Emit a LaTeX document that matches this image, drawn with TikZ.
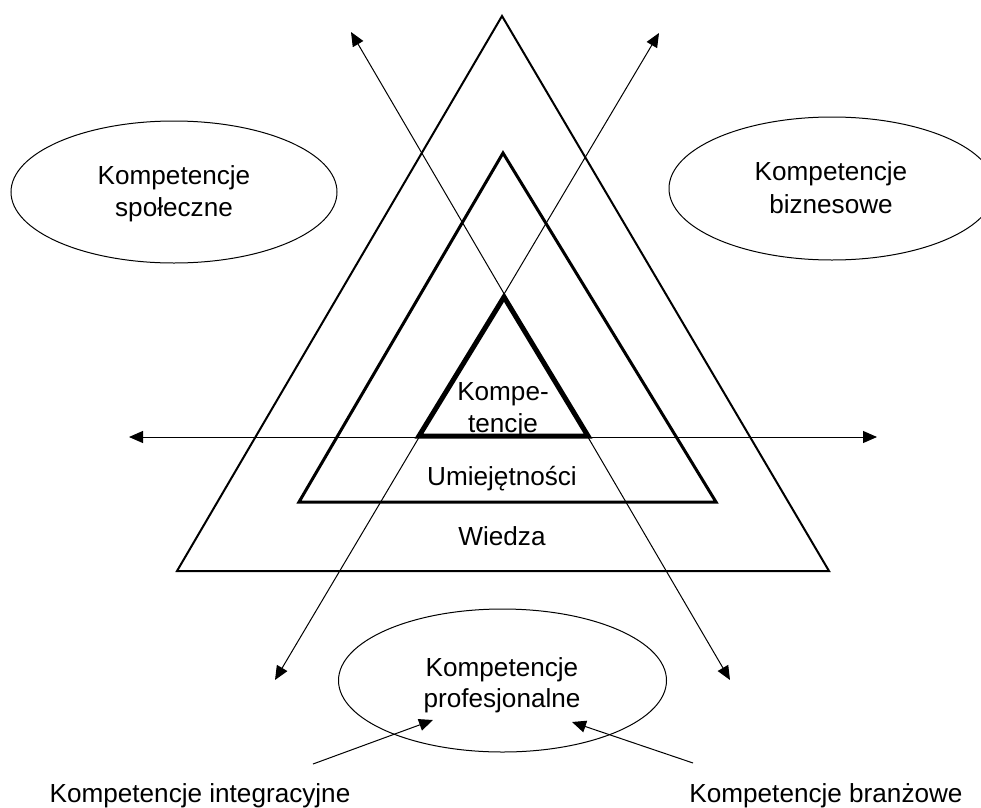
\documentclass[tikz,border=0pt]{standalone}
\usepackage{fontspec}
\setmainfont{Liberation Sans}
\usetikzlibrary{arrows.meta,shapes.geometric}
\begin{document}
\begin{tikzpicture}[x=0.75pt,y=-0.75pt,
  lbl/.style={anchor=base,inner sep=0pt,font=\fontsize{19.6}{23}\selectfont},
  oval/.style={draw,ellipse,line width=0.75pt,inner sep=0pt},
  tip/.tip={Triangle[length=10.5pt,width=9pt]},
  arr/.style={line width=0.75pt,-tip},
  darr/.style={line width=0.75pt,tip-tip},
  tri/.style={line join=miter,draw}
]
\useasboundingbox (0,0) rectangle (981,807);
\clip (0,0) rectangle (981,807);

% triangles
\coordinate (oA) at (502,16);
\coordinate (oL) at (177,571);
\coordinate (oR) at (829,571);
\coordinate (mA) at (503,153);
\coordinate (mL) at (299,502);
\coordinate (mR) at (716,502);
\coordinate (iA) at (504,297);
\coordinate (iL) at (419,436);
\coordinate (iR) at (588,436);
\draw[tri,line width=1.5pt] (oA) -- (oL) -- (oR) -- cycle;
\draw[tri,line width=2.25pt] (mA) -- (mL) -- (mR) -- cycle;
\draw[tri,line width=3.75pt] (iA) -- (iL) -- (iR) -- cycle;

% ellipses
\node[oval,minimum width=244.5pt,minimum height=106.5pt] (es) at (174,192) {};
\node[oval,minimum width=244.5pt,minimum height=107.25pt] (eb) at (832,188.5) {};
\node[oval,minimum width=246pt,minimum height=107.25pt] (ep) at (502.5,680.5) {};

% arrows
\coordinate (hL) at (129,437);
\coordinate (hR) at (877,437);
\coordinate (d1a) at (351,32);
\coordinate (d1b) at (730,680);
\coordinate (d2a) at (659,33);
\coordinate (d2b) at (275,680);
\draw[darr] (hL) -- (hR);
\draw[darr] (d1a) -- (d1b);
\draw[darr] (d2a) -- (d2b);

\coordinate (s1) at (313,764);
\coordinate (t1) at (433,720);
\coordinate (s2) at (693,763);
\coordinate (t2) at (572,722);
\draw[arr] (s1) -- (t1);
\draw[arr] (s2) -- (t2);

% labels
\node[lbl] (ls1) at (174,184) {Kompetencje};
\node[lbl] (ls2) at (174,216) {społeczne};
\node[lbl] (rb1) at (831,180) {Kompetencje};
\node[lbl] (rb2) at (831,213) {biznesowe};
\node[lbl] (bp1) at (502,676) {Kompetencje};
\node[lbl] (bp2) at (502,707) {profesjonalne};
\node[lbl] (ki1) at (503,400) {Kompe-};
\node[lbl] (ki2) at (503,432) {tencje};
\node[lbl] (um) at (502,485) {Umiejętności};
\node[lbl] (wi) at (502,545) {Wiedza};
\node[lbl] (kint) at (200,802) {Kompetencje integracyjne};
\node[lbl] (kbr) at (826,802) {Kompetencje branżowe};
\end{tikzpicture}
\end{document}
